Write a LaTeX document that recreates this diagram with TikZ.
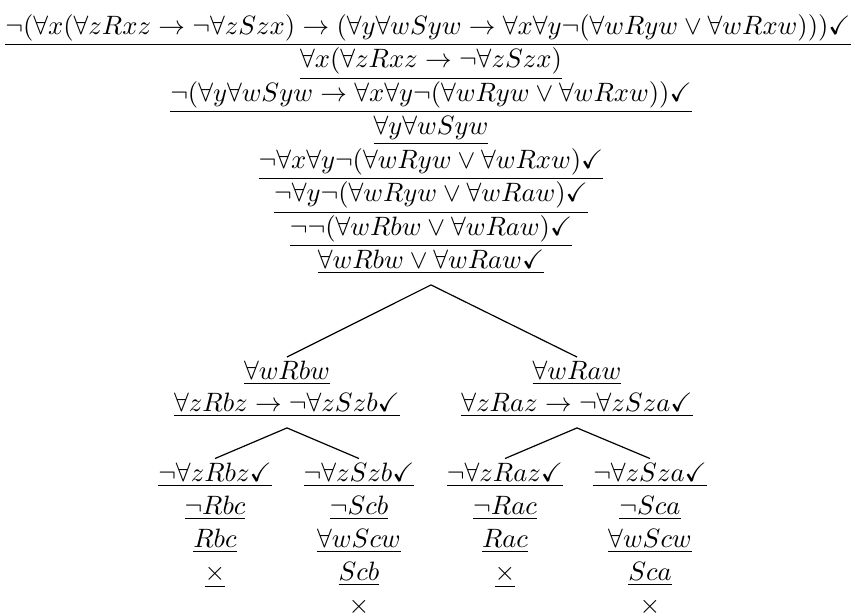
\documentclass[tikz,border=0pt]{standalone}
\usepackage{amsfonts}
\usepackage{mathtools,amssymb}
\usepackage{tikz}
\usetikzlibrary{positioning,calc}
\tikzstyle{frm}=[inner sep=1.5pt, anchor=base]
\tikzstyle{fork}=[frm, inner ysep=3.8pt]
\tikzstyle{br}=[draw=black, line width=0.45pt]
\newcommand{\ufrm}[1]{$\underline{#1}$}

\begin{document}
\begin{tikzpicture}[x=0.3765pt, y=-0.3765pt]
      \useasboundingbox (0,0) rectangle (855,616);
      % trunk
      \node[frm] (t1) at (428,34.5) {\ufrm{\neg(\forall x(\forall zRxz\rightarrow\neg\forall zSzx)\rightarrow(\forall y\forall wSyw\rightarrow\forall x\forall y\neg(\forall wRyw\vee\forall wRxw)))\checkmark}};
      \node[frm] (t2) at (431,68) {\ufrm{\forall x(\forall zRxz\rightarrow\neg\forall zSzx)}};
      \node[frm] (t3) at (431,101.5) {\ufrm{\neg(\forall y\forall wSyw\rightarrow\forall x\forall y\neg(\forall wRyw\vee\forall wRxw))\checkmark}};
      \node[frm] (t4) at (431,135) {\ufrm{\forall y\forall wSyw}};
      \node[frm] (t5) at (431,168.5) {\ufrm{\neg\forall x\forall y\neg(\forall wRyw\vee\forall wRxw)\checkmark}};
      \node[frm] (t6) at (431,202) {\ufrm{\neg\forall y\neg(\forall wRyw\vee\forall wRaw)\checkmark}};
      \node[frm] (t7) at (431,235.5) {\ufrm{\neg\neg(\forall wRbw\vee\forall wRaw)\checkmark}};
      \node[fork] (t8) at (431,269) {\ufrm{\forall wRbw\vee\forall wRaw\checkmark}};
      %
      \node[frm] (l1) at (287,380) {\ufrm{\forall wRbw}};
      \node[fork] (l2) at (287,412) {\ufrm{\forall zRbz\rightarrow\neg\forall zSzb\checkmark}};
      \node[frm] (r1) at (577,380) {\ufrm{\forall wRaw}};
      \node[fork] (r2) at (577,412) {\ufrm{\forall zRaz\rightarrow\neg\forall zSza\checkmark}};
      %
      \node[frm] (ll1) at (215,481.5) {\ufrm{\neg\forall zRbz\checkmark}};
      \node[frm] (ll2) at (215,514.5) {\ufrm{\neg Rbc}};
      \node[frm] (ll3) at (215,547.5) {\ufrm{Rbc}};
      \node[frm] (ll4) at (215,580.5) {\ufrm{\times}};
      \node[frm] (lr1) at (359,481.5) {\ufrm{\neg\forall zSzb\checkmark}};
      \node[frm] (lr2) at (359,514.5) {\ufrm{\neg Scb}};
      \node[frm] (lr3) at (359,547.5) {\ufrm{\forall wScw}};
      \node[frm] (lr4) at (359,580.5) {\ufrm{Scb}};
      \node[frm] (lr5) at (359,613.5) {\ufrm{\times}};
      \node[frm] (rl1) at (505,481.5) {\ufrm{\neg\forall zRaz\checkmark}};
      \node[frm] (rl2) at (505,514.5) {\ufrm{\neg Rac}};
      \node[frm] (rl3) at (505,547.5) {\ufrm{Rac}};
      \node[frm] (rl4) at (505,580.5) {\ufrm{\times}};
      \node[frm] (rr1) at (650,481.5) {\ufrm{\neg\forall zSza\checkmark}};
      \node[frm] (rr2) at (650,514.5) {\ufrm{\neg Sca}};
      \node[frm] (rr3) at (650,547.5) {\ufrm{\forall wScw}};
      \node[frm] (rr4) at (650,580.5) {\ufrm{Sca}};
      \node[frm] (rr5) at (650,613.5) {\ufrm{\times}};
      % branches
      \draw[br] (t8.south) -- (l1.north);
      \draw[br] (t8.south) -- (r1.north);
      \draw[br] (l2.south) -- (ll1.north);
      \draw[br] (l2.south) -- (lr1.north);
      \draw[br] (r2.south) -- (rl1.north);
      \draw[br] (r2.south) -- (rr1.north);
\end{tikzpicture}
\end{document}
